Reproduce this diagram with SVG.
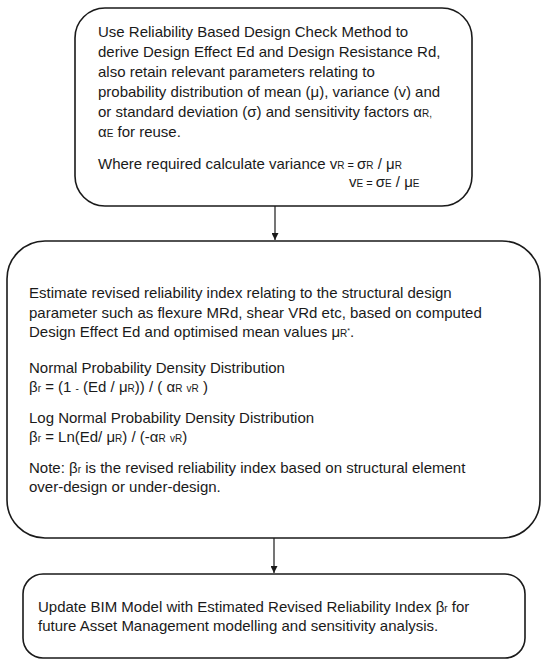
<svg xmlns="http://www.w3.org/2000/svg" width="550" height="668" viewBox="0 0 550 668">
<style>
.box{fill:#fff;stroke:#1a1a1a;stroke-width:1.6}
.t{font-family:"Liberation Sans",Arial,sans-serif;font-size:15px;fill:#1a1a1a}
.s{font-size:10px}
.e{font-size:11px}
.con{stroke:#1a1a1a;stroke-width:1.2;fill:none}
</style>
<defs>
<marker id="ah" viewBox="0 0 10 10" refX="10" refY="5" markerWidth="7" markerHeight="7" markerUnits="userSpaceOnUse" orient="auto">
<path d="M0,0 L10,5 L0,10 z" fill="#1a1a1a"/>
</marker>
</defs>
<rect width="550" height="668" fill="#fff"/>
<g id="connectors">
<line class="con" x1="275" y1="206" x2="275" y2="240" marker-end="url(#ah)"/>
<line class="con" x1="274" y1="538" x2="274" y2="573" marker-end="url(#ah)"/>
</g>
<g id="node1">
<rect class="box" x="75" y="8" width="397" height="198" rx="30" ry="30"/>
<text class="t" x="98" y="37">Use Reliability Based Design Check Method to</text>
<text class="t" x="98" y="57">derive Design Effect Ed and Design Resistance Rd,</text>
<text class="t" x="98" y="77">also retain relevant parameters relating to</text>
<text class="t" x="98" y="97">probability distribution of  mean (μ), variance (v) and</text>
<text class="t" x="98" y="117">or standard deviation (σ) and sensitivity factors α<tspan class="s">R,</tspan></text>
<text class="t" x="98" y="137">α<tspan class="s">E</tspan> for reuse.</text>
<text class="t" x="98" y="169">Where required calculate variance v<tspan class="s">R</tspan><tspan class="e"> = </tspan>σ<tspan class="s">R</tspan> / μ<tspan class="s">R</tspan></text>
<text class="t" x="349" y="187">v<tspan class="s">E</tspan><tspan class="e"> = </tspan>σ<tspan class="s">E</tspan> / μ<tspan class="s">E</tspan></text>
</g>
<g id="node2">
<rect class="box" x="7" y="241" width="533" height="297" rx="38" ry="38"/>
<text class="t" x="29" y="298">Estimate revised reliability index relating to the structural design</text>
<text class="t" x="29" y="318">parameter such as flexure MRd, shear VRd etc, based on computed</text>
<text class="t" x="29" y="337">Design Effect Ed and optimised mean values μ<tspan class="s">R</tspan><tspan font-size="7px" dy="-4">*</tspan><tspan dy="4">.</tspan></text>
<text class="t" x="29" y="373">Normal Probability Density Distribution</text>
<text class="t" x="29" y="392">β<tspan class="s">r</tspan> = (1 <tspan class="s">-</tspan> (Ed / μ<tspan class="s">R</tspan>)) / ( α<tspan class="s">R</tspan> <tspan class="s">v</tspan><tspan class="s">R</tspan> )</text>
<text class="t" x="29" y="423">Log Normal Probability Density Distribution</text>
<text class="t" x="29" y="442">β<tspan class="s">r</tspan> = Ln(Ed/ μ<tspan class="s">R</tspan>) / (-α<tspan class="s">R</tspan> <tspan class="s">vR</tspan>)</text>
<text class="t" x="29" y="473">Note:  β<tspan class="s">r</tspan> is the revised reliability index based on structural element</text>
<text class="t" x="29" y="492">over-design or under-design.</text>
</g>
<g id="node3">
<rect class="box" x="23" y="574" width="502" height="84" rx="20" ry="20"/>
<text class="t" x="38" y="612">Update BIM Model with Estimated Revised Reliability Index β<tspan class="s">r</tspan> for</text>
<text class="t" x="38" y="631">future Asset Management modelling  and sensitivity analysis.</text>
</g>
</svg>
